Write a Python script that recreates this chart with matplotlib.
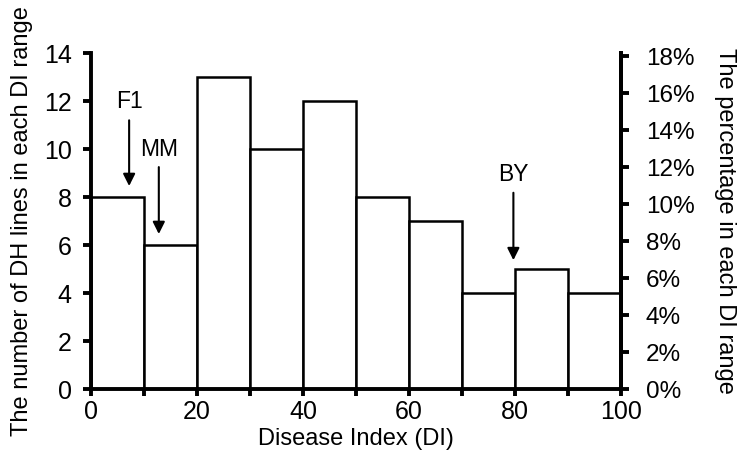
import matplotlib
matplotlib.use("Agg")
import matplotlib.pyplot as plt
from matplotlib.ticker import FuncFormatter, MultipleLocator

plt.rcParams['font.family'] = ['Liberation Sans', 'DejaVu Sans']

# DI ranges (left edge of each 10-wide bin) and number of DH lines
bin_edges = [0, 10, 20, 30, 40, 50, 60, 70, 80, 90]
counts = [8, 6, 13, 10, 12, 8, 7, 4, 5, 4]

# annotated parents: label, DI position, text height, arrow start / tip heights
marker_names = ['F1', 'MM', 'BY']
marker_x = [7.2, 12.8, 79.7]
marker_text_y = [12.0, 10.0, 8.95]
marker_tail_y = [11.2, 9.25, 8.18]
marker_tip_y = [8.46, 6.46, 5.37]

total = sum(counts)

fig = plt.figure(figsize=(7.42, 4.62), dpi=100)
ax = fig.add_axes([0.1226, 0.158, 0.7143, 0.727])

ax.bar(bin_edges, counts, width=10, align='edge', facecolor='white',
       edgecolor='black', linewidth=1.8, zorder=2)

ax.set_xlim(0, 100)
ax.set_ylim(0, 14)
ax.xaxis.set_major_locator(MultipleLocator(20))
ax.xaxis.set_minor_locator(MultipleLocator(10))
ax.yaxis.set_major_locator(MultipleLocator(2))

for side in ['left', 'bottom', 'right']:
    ax.spines[side].set_linewidth(2.8)
ax.spines['top'].set_visible(False)
ax.tick_params(axis='both', which='both', direction='out', width=2.8, labelsize=18)
ax.tick_params(axis='y', which='major', length=6, pad=8)
ax.tick_params(axis='x', which='both', length=5, pad=3)

ax.set_xlabel('Disease Index (DI)', fontsize=17, labelpad=3)
ax.set_ylabel('The number of DH lines in each DI range', fontsize=17, labelpad=8)

# right axis as percentage of all lines
ax2 = ax.twinx()
ax2.set_ylim(0, 14 / total * 100)
ax2.yaxis.set_major_locator(MultipleLocator(2))
ax2.yaxis.set_major_formatter(FuncFormatter(lambda v, p: f'{v:.0f}%'))
ax2.spines['top'].set_visible(False)
ax2.spines['right'].set_linewidth(2.8)
ax2.spines['left'].set_visible(False)
ax2.spines['bottom'].set_visible(False)
ax2.tick_params(axis='y', direction='out', width=2.8, length=6, pad=12, labelsize=17.5)
ax2.set_ylabel('The percentage in each DI range', fontsize=17,
               rotation=-90, labelpad=30)

for name, x, ty, tail, tip in zip(marker_names, marker_x, marker_text_y,
                                  marker_tail_y, marker_tip_y):
    ax.text(x, ty, name, fontsize=16.5, ha='center', va='center')
    ax.annotate('', xy=(x, tip), xytext=(x, tail),
                arrowprops=dict(arrowstyle='-|>', color='black', lw=1.5,
                                mutation_scale=18, shrinkA=0, shrinkB=0))

fig.savefig('out.png', dpi=100)
